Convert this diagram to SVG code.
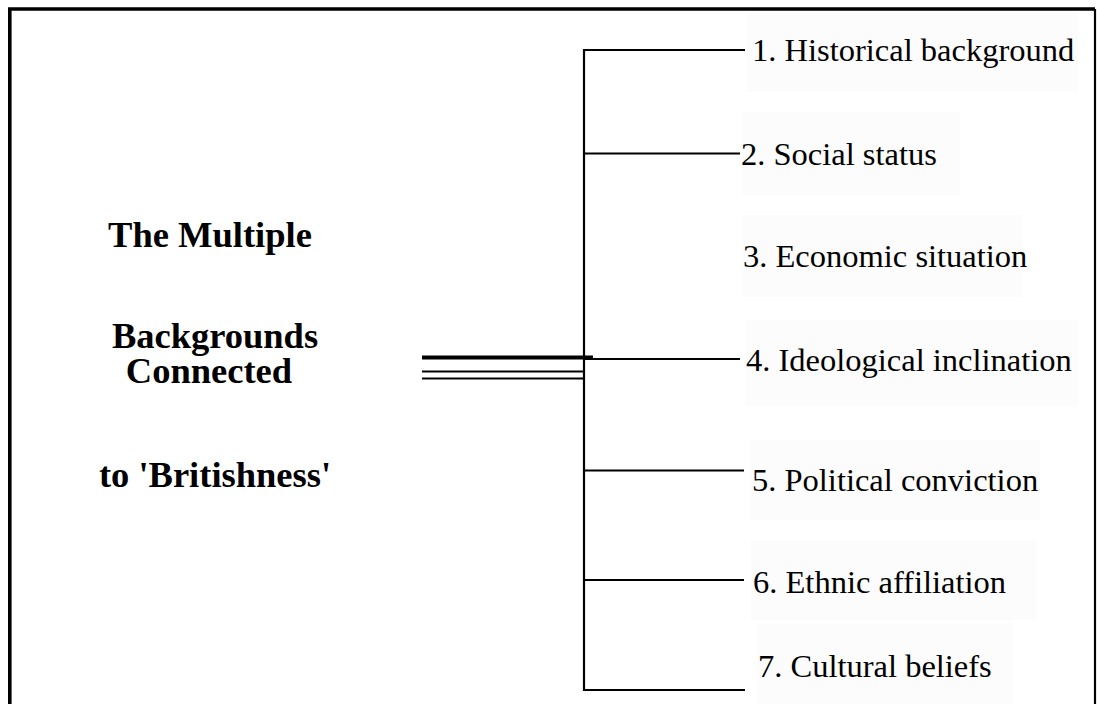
<svg xmlns="http://www.w3.org/2000/svg" width="1097" height="704" viewBox="0 0 1097 704">
  <style>
    .frame { fill: none; stroke: #000; }
    .wire { stroke: #000; stroke-width: 2.2; fill: none; }
    .title { font-family: "Liberation Serif", "Times New Roman", serif; font-weight: bold; font-size: 36.5px; fill: #000; text-anchor: middle; }
    .label { font-family: "Liberation Serif", "Times New Roman", serif; font-size: 32.5px; fill: #000; }
    .pad { fill: #fcfcfc; }
  </style>
  <rect x="0" y="0" width="1097" height="704" fill="#fff"/>
  <!-- outer frame -->
  <path class="frame" d="M9.8,704 V9 H1095" stroke-width="3.6"/>
  <path class="frame" d="M1095,9 V704" stroke-width="2.2"/>

  <!-- central heading -->
  <g id="heading">
    <text class="title" x="210" y="247">The Multiple</text>
    <text class="title" x="215" y="348">Backgrounds</text>
    <text class="title" x="209" y="383">Connected</text>
    <text class="title" x="215" y="487">to 'Britishness'</text>
  </g>

  <!-- connectors -->
  <g id="connectors">
    <line x1="422" y1="357.5" x2="593" y2="357.5" stroke="#000" stroke-width="4"/>
    <line class="wire" x1="422" y1="371.5" x2="584" y2="371.5"/>
    <line class="wire" x1="422" y1="378.5" x2="584" y2="378.5"/>
    <line class="wire" x1="584" y1="49.5" x2="584" y2="691"/>
    <line class="wire" x1="583" y1="50" x2="745" y2="50"/>
    <line class="wire" x1="583" y1="153.5" x2="740" y2="153.5"/>
    <line class="wire" x1="583" y1="359" x2="740" y2="359"/>
    <line class="wire" x1="583" y1="470.5" x2="744" y2="470.5"/>
    <line class="wire" x1="583" y1="580" x2="744" y2="580"/>
    <line class="wire" x1="583" y1="690" x2="745" y2="690"/>
  </g>

  <g id="item1">
    <rect class="pad" x="747" y="12" width="331" height="80"/>
    <text class="label" x="752" y="61">1. Historical background</text>
  </g>
  <g id="item2">
    <rect class="pad" x="742" y="112" width="218" height="83"/>
    <text class="label" x="741" y="165">2. Social status</text>
  </g>
  <g id="item3">
    <rect class="pad" x="742" y="215" width="280" height="82"/>
    <text class="label" x="743" y="267">3. Economic situation</text>
  </g>
  <g id="item4">
    <rect class="pad" x="745" y="320" width="333" height="86"/>
    <text class="label" x="746" y="371">4. Ideological inclination</text>
  </g>
  <g id="item5">
    <rect class="pad" x="750" y="440" width="290" height="80"/>
    <text class="label" x="752" y="491">5. Political conviction</text>
  </g>
  <g id="item6">
    <rect class="pad" x="751" y="540" width="285" height="80"/>
    <text class="label" x="753" y="593">6. Ethnic affiliation</text>
  </g>
  <g id="item7">
    <rect class="pad" x="757" y="623" width="256" height="81"/>
    <text class="label" x="758" y="677">7. Cultural beliefs</text>
  </g>
</svg>
